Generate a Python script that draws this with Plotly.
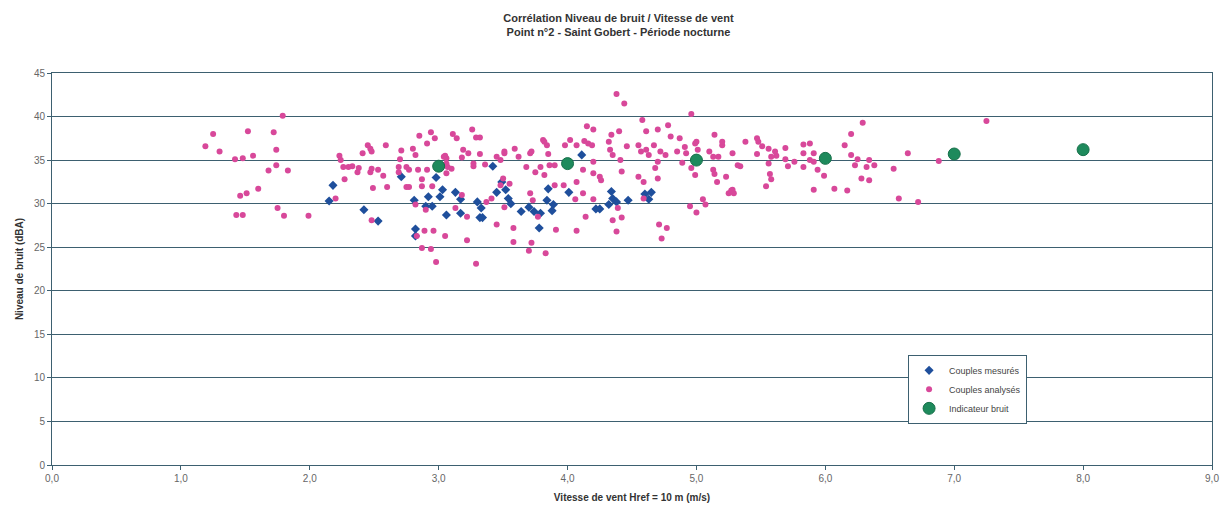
import plotly.graph_objects as go

# Couples mesurés (blue diamonds)
mes_x = [2.18, 2.15, 2.42, 2.53, 2.71, 2.82, 2.82, 2.81, 2.90, 2.95, 2.92, 2.98, 3.01, 3.03, 3.06,
         3.13, 3.17, 3.17, 3.30, 3.33, 3.32, 3.34, 3.42, 3.45, 3.49, 3.52, 3.54, 3.56, 3.64, 3.70,
         3.74, 3.79, 3.78, 3.85, 3.84, 3.89, 3.88, 4.01, 4.11, 4.34, 4.35, 4.38, 4.32, 4.22, 4.25,
         4.47, 4.60, 4.65, 4.63]
mes_y = [32.1, 30.3, 29.3, 28.0, 33.1, 27.1, 26.3, 30.4, 29.7, 29.7, 30.8, 33.0, 30.8, 31.6, 28.7,
         31.3, 30.5, 28.9, 30.2, 29.5, 28.4, 28.4, 34.3, 31.3, 32.5, 31.6, 30.6, 30.0, 29.1, 29.6,
         29.1, 28.9, 27.2, 31.7, 30.4, 29.9, 29.2, 31.3, 35.6, 31.4, 30.6, 30.2, 29.9, 29.4, 29.4,
         30.4, 31.1, 31.3, 30.5]

# Couples analysés (pink circles)
ana_x = [1.79, 1.25, 1.19, 1.30, 1.52, 1.72, 1.74, 1.42, 1.48, 1.56, 1.74, 1.68, 1.83, 1.60, 1.51,
         1.46, 1.75, 1.43, 1.48, 1.80, 1.99,
         2.20, 2.23, 2.24, 2.26, 2.30, 2.33, 2.37, 2.38, 2.27, 2.41, 2.45, 2.47, 2.48, 2.59, 2.47,
         2.48, 2.53, 2.57, 2.49, 2.60, 2.71, 2.70, 2.69, 2.69, 2.75, 2.75, 2.80, 2.82, 2.84, 2.85,
         2.91, 2.91, 2.87, 2.87, 2.82, 2.90, 2.48, 2.89, 2.87, 2.94, 2.98, 3.05, 2.96, 2.83, 2.95,
         2.94, 2.97, 3.05, 3.06, 3.06, 2.77, 2.77,
         3.11, 3.14, 3.26, 3.29, 3.32, 3.19, 3.23, 3.32, 3.04, 3.06, 3.04, 3.07, 3.10, 3.18, 3.27,
         3.27, 3.36, 3.45, 3.51, 3.59, 3.62, 3.71, 3.81, 3.84, 3.85, 3.98, 4.02, 4.07, 3.68, 3.75,
         3.79, 3.82, 3.86, 3.90, 3.50, 3.55, 3.48, 3.18, 3.13, 3.41, 3.37, 3.51, 3.22, 3.45, 3.58,
         3.71, 3.73, 3.77, 3.90, 3.97, 4.07, 4.06, 3.91, 4.07, 3.22, 3.58, 3.72, 3.70, 3.83, 3.29,
         3.82, 4.13, 3.48, 3.72, 3.51,
         4.38, 4.44, 4.96, 4.58, 4.15, 4.20, 4.70, 4.78, 4.61, 4.80, 4.34, 4.40, 5.14, 5.20, 4.87,
         4.99, 4.16, 4.19, 4.32, 4.33, 4.46, 4.55, 4.57, 4.61, 4.63, 4.67, 4.72, 4.76, 4.85, 4.91,
         4.92, 5.01, 5.10, 5.13, 5.17, 4.35, 4.41, 4.20, 4.12, 4.20, 4.25, 4.26, 4.42, 4.55, 4.59,
         4.68, 4.70, 4.70, 4.89, 4.99, 5.13, 5.14, 5.16, 5.23, 5.25, 4.12, 4.20, 4.39, 4.14, 4.35,
         4.42, 4.38, 4.71, 4.77, 4.73, 4.95, 5.00, 5.05, 5.07, 4.59, 5.20, 5.00, 4.96, 5.28,
         6.29, 6.20, 6.15, 6.20, 6.25, 6.23, 6.32, 6.34, 6.38, 6.28, 6.34, 6.17, 6.07, 5.91, 5.99,
         5.94, 5.91, 5.88, 5.83, 5.83, 5.88, 5.91, 5.83, 5.76, 5.71, 5.69, 5.69, 5.62, 5.61, 5.56,
         5.58, 5.56, 5.57, 5.58, 5.54, 5.51, 5.47, 5.48, 5.38, 5.47, 5.28, 5.32, 5.34, 5.27, 5.29,
         7.25, 6.64, 6.88, 6.53, 6.57, 6.72]
ana_y = [40.1, 38.0, 36.6, 36.0, 38.3, 38.2, 36.2, 35.1, 35.2, 35.5, 34.4, 33.8, 33.8, 31.7, 31.2,
         30.9, 29.5, 28.7, 28.7, 28.6, 28.6,
         30.6, 35.5, 35.0, 34.2, 34.2, 34.3, 33.6, 34.1, 32.8, 35.8, 36.7, 36.3, 36.0, 36.7, 33.6,
         34.0, 33.9, 33.2, 31.8, 31.9, 36.1, 35.1, 34.2, 33.6, 34.2, 31.9, 36.3, 35.6, 33.9, 37.8,
         36.9, 33.9, 32.8, 32.0, 29.9, 29.3, 28.1, 26.9, 24.9, 24.8, 23.3, 26.3, 26.9, 26.3, 32.0,
         38.2, 37.5, 35.5, 34.6, 33.5, 33.9, 31.9,
         38.0, 37.5, 38.5, 37.6, 37.6, 36.2, 35.8, 35.7, 35.4, 35.2, 34.4, 34.2, 34.0, 35.3, 34.6,
         34.3, 34.5, 35.4, 35.8, 36.3, 35.4, 35.8, 37.3, 36.7, 35.7, 36.7, 37.3, 36.7, 34.2, 33.6,
         34.2, 33.3, 34.4, 34.4, 32.9, 32.3, 32.1, 31.0, 29.5, 30.6, 30.2, 29.6, 28.5, 27.6, 27.2,
         31.2, 30.4, 28.5, 32.1, 32.1, 32.5, 30.5, 27.0, 26.9, 25.8, 25.6, 25.5, 24.6, 24.3, 23.1,
         37.1, 37.2, 35.0, 36.0, 36.0,
         42.6, 41.5, 40.3, 39.6, 38.9, 38.5, 38.5, 39.0, 38.3, 37.7, 37.9, 38.3, 37.9, 36.7, 37.5,
         36.9, 36.9, 36.7, 37.1, 36.2, 36.6, 36.7, 36.0, 36.2, 35.6, 36.7, 36.0, 35.6, 36.0, 36.5,
         35.8, 36.2, 36.0, 35.4, 35.4, 35.6, 35.0, 34.8, 33.9, 33.5, 33.1, 32.7, 33.7, 33.1, 32.5,
         34.1, 34.8, 32.9, 34.7, 33.3, 33.9, 33.4, 32.5, 33.1, 31.2, 31.2, 30.5, 29.5, 28.5, 28.1,
         28.4, 26.8, 27.6, 27.2, 26.0, 29.7, 29.0, 30.5, 29.9, 30.6, 37.1, 37.1, 34.1, 31.6,
         39.3, 38.0, 36.7, 35.6, 35.1, 34.4, 34.2, 35.0, 34.4, 32.9, 32.7, 31.5, 31.7, 31.6, 33.2,
         33.9, 34.8, 35.0, 35.8, 36.8, 36.9, 35.8, 34.2, 34.8, 34.3, 36.4, 35.1, 35.5, 36.0, 36.3,
         35.4, 34.6, 33.4, 32.8, 32.0, 36.6, 37.5, 37.1, 37.1, 35.7, 35.8, 34.4, 34.3, 31.5, 31.2,
         39.5, 35.8, 34.9, 34.0, 30.6, 30.2]

# Indicateur bruit (green)
ind_x = [3.0, 4.0, 5.0, 6.0, 7.0, 8.0]
ind_y = [34.3, 34.6, 35.0, 35.2, 35.7, 36.2]

x_ticks = [0, 1, 2, 3, 4, 5, 6, 7, 8, 9]
y_ticks = [0, 5, 10, 15, 20, 25, 30, 35, 40, 45]

FONT = "Liberation Sans, Arial, sans-serif"
LINE = "#3d6070"

fig = go.Figure()
fig.add_trace(go.Scatter(x=mes_x, y=mes_y, mode="markers", name="Couples mesurés",
                         marker=dict(symbol="diamond", size=7, color="#1f4f9c")))
fig.add_trace(go.Scatter(x=ana_x, y=ana_y, mode="markers", name="Couples analysés",
                         marker=dict(symbol="circle", size=6, color="#d8489a")))
fig.add_trace(go.Scatter(x=ind_x, y=ind_y, mode="markers", name="Indicateur bruit",
                         marker=dict(symbol="circle", size=12, color="#1e8a5c",
                                     line=dict(color="#17704a", width=1))))

# page body has an 8px margin: the figure is sized/placed to compensate
fig.update_layout(
    width=1221, height=502,
    paper_bgcolor="white", plot_bgcolor="white",
    margin=dict(l=44, r=17, t=65, b=45, autoexpand=False),
    separators=", ",
    font=dict(family=FONT, size=10, color="#555555"),
    title=dict(text="<b>Corrélation Niveau de bruit / Vitesse de vent<br>Point n°2 - Saint Gobert - Période nocturne</b>",
               x=0.5, xanchor="center", y=0.972, yanchor="top",
               font=dict(family=FONT, size=11, color="#333333")),
    showlegend=True,
    legend=dict(x=0.738, y=0.281, xanchor="left", yanchor="top",
                bgcolor="white", bordercolor=LINE, borderwidth=1,
                font=dict(family=FONT, size=9, color="#444444"),
                itemsizing="trace", tracegroupgap=0, itemwidth=30),
    xaxis=dict(range=[0, 9], tickvals=x_ticks, tickformat=".1f",
               showgrid=False, zeroline=False,
               showline=True, linecolor=LINE, linewidth=1, mirror=True,
               ticks="outside", ticklen=4, tickcolor=LINE,
               tickfont=dict(size=10, color="#666666"),
               title=dict(text="<b>Vitesse de vent Href = 10 m (m/s)</b>",
                          font=dict(size=10, color="#333333"), standoff=10)),
    yaxis=dict(range=[0, 45], tickvals=y_ticks,
               showgrid=True, gridcolor=LINE, gridwidth=1, zeroline=False,
               showline=True, linecolor=LINE, linewidth=1, mirror=True,
               ticks="outside", ticklen=4, tickcolor=LINE,
               tickfont=dict(size=10, color="#666666"),
               title=dict(text="<b>Niveau de bruit (dBA)</b>",
                          font=dict(size=10, color="#333333"), standoff=8)),
)

fig.write_html("out.html")
